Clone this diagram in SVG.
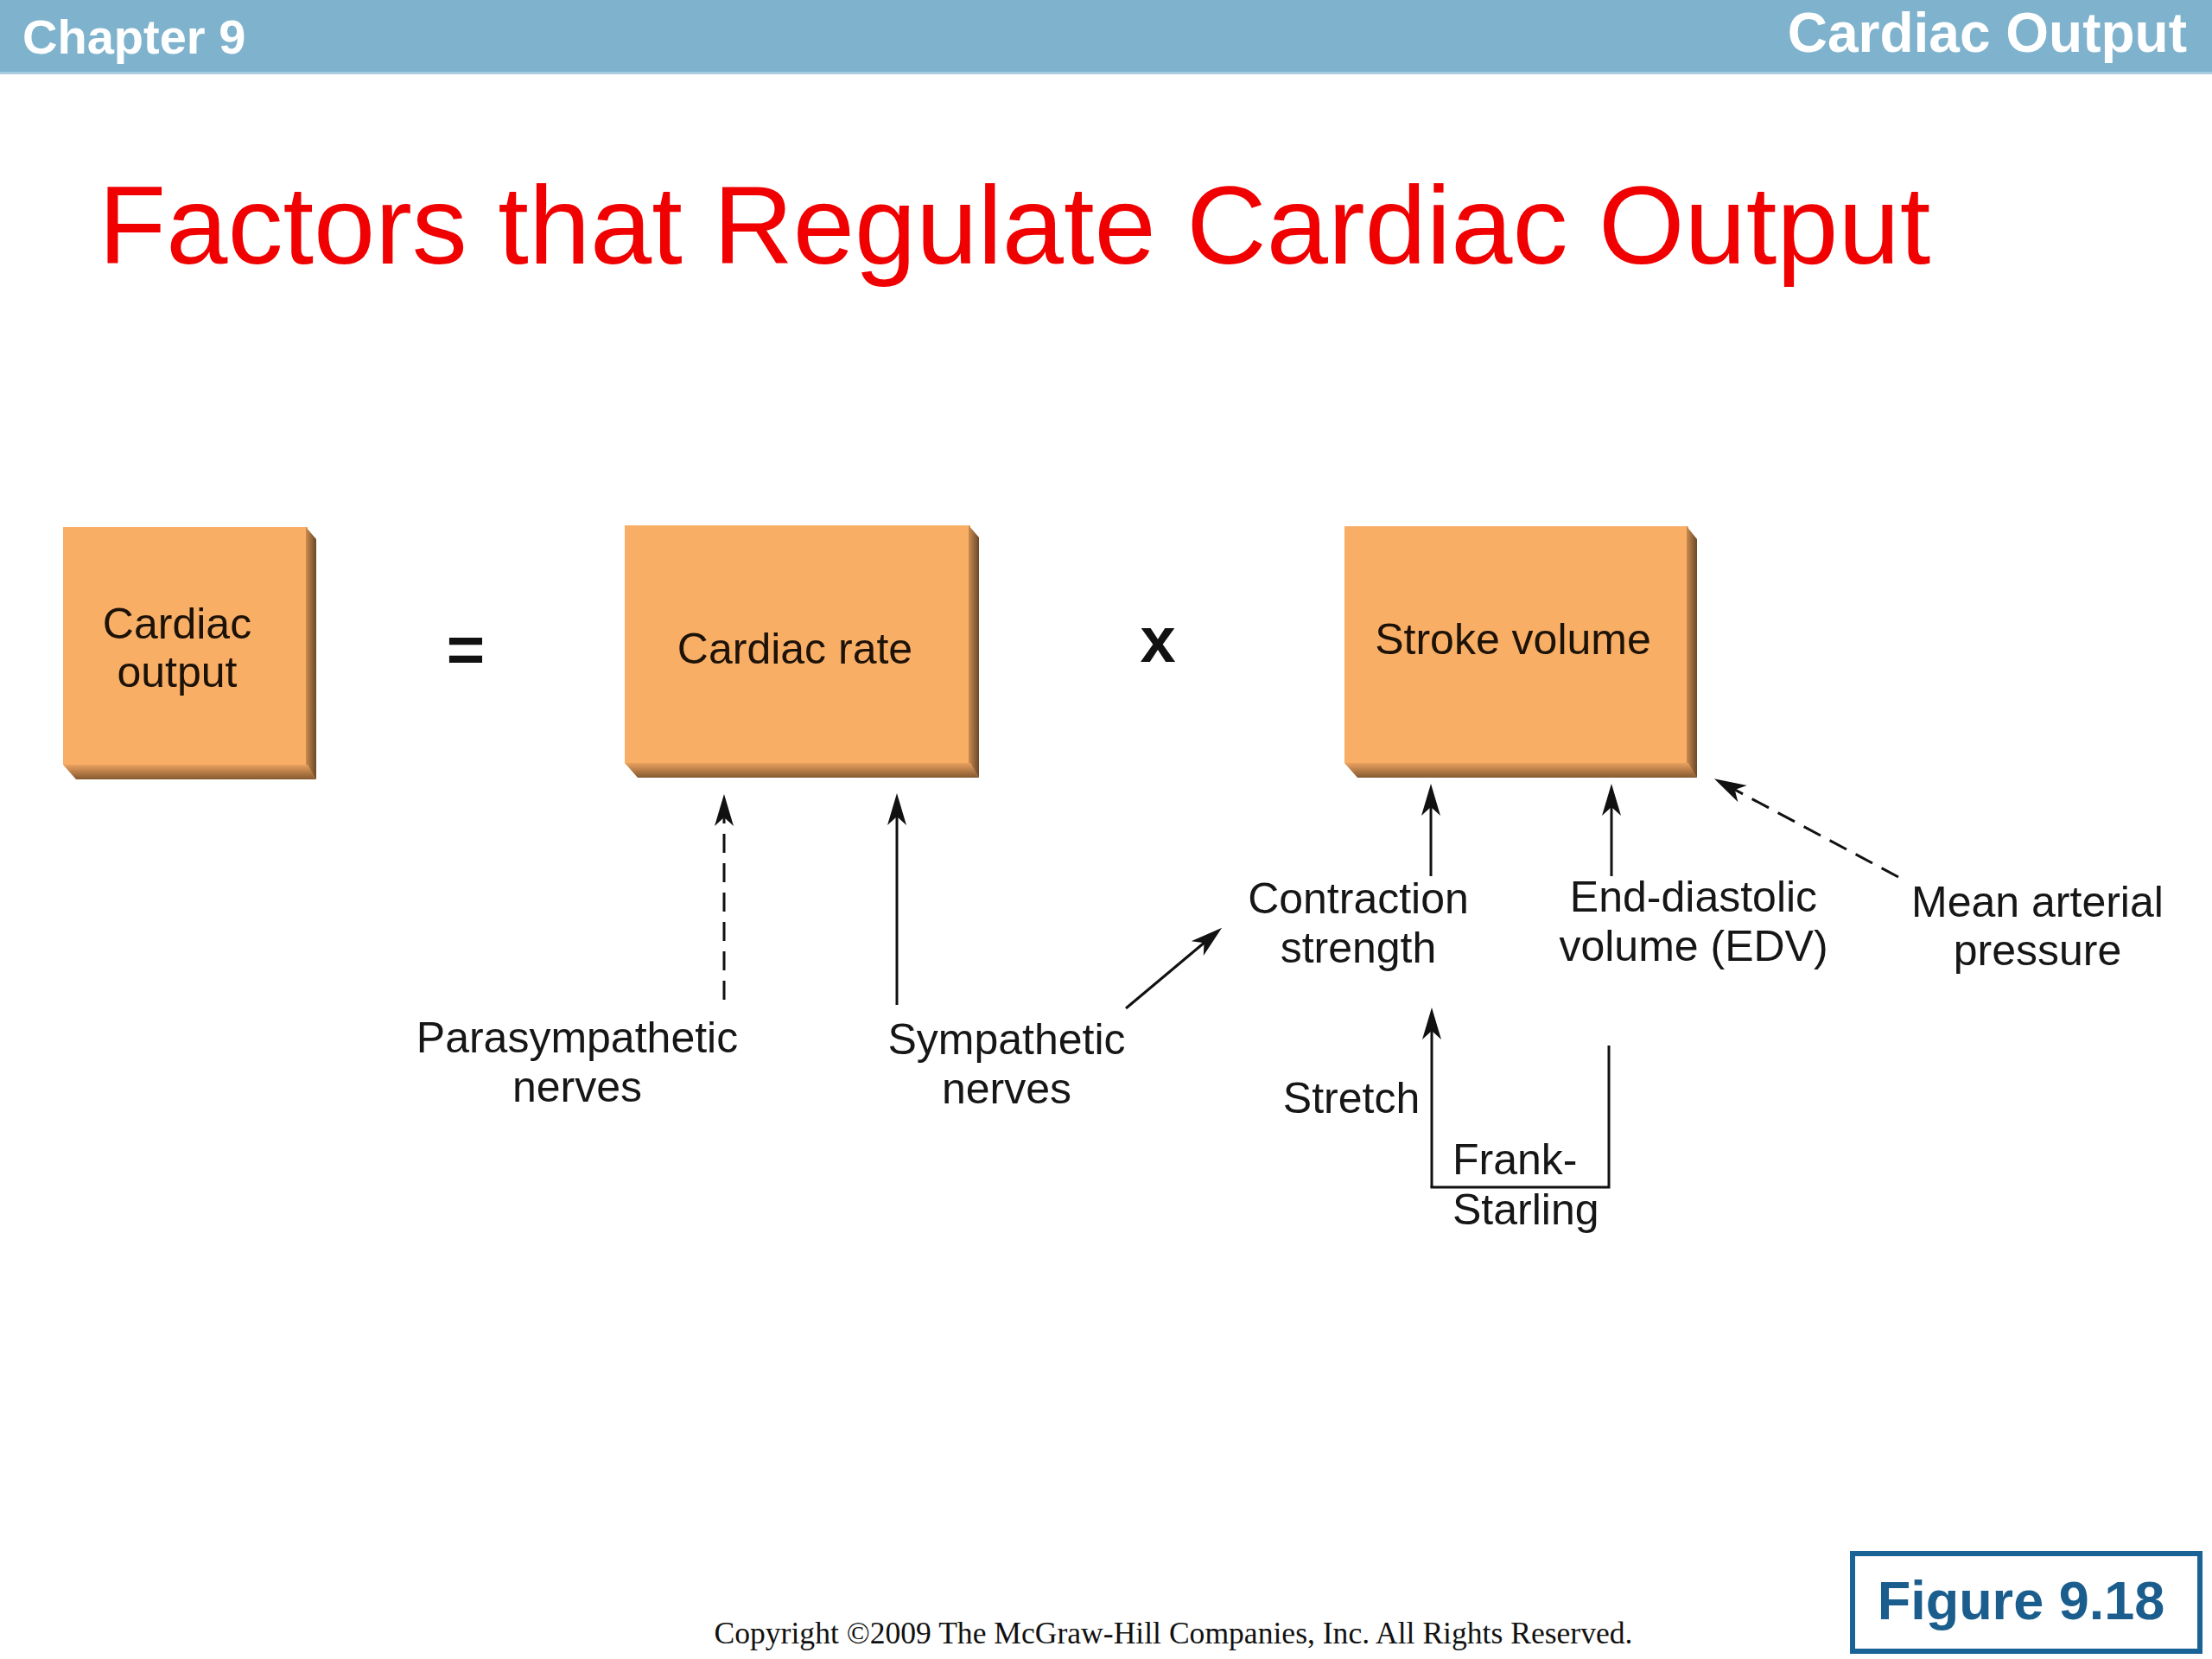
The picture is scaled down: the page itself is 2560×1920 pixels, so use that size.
<svg xmlns="http://www.w3.org/2000/svg" width="2560" height="1920" viewBox="0 0 2560 1920">
  <defs>
    <style>
      .lbl { font-family: "Liberation Sans", Arial, sans-serif; font-size: 50px; fill: #161616; }
      .boxt { font-family: "Liberation Sans", Arial, sans-serif; font-size: 50px; fill: #1c1208; }
      .hdr { font-family: "Liberation Sans", Arial, sans-serif; font-weight: bold; fill: #ffffff; }
      .face { fill: #F9AE66; }
      .side { fill: url(#gSide); }
      .bot { fill: url(#gBot); }
      .ln { stroke: #111; stroke-width: 3; fill: none; }
      .dash { stroke-dasharray: 22 12; }
    </style>
    <linearGradient id="gSide" x1="0" y1="0" x2="1" y2="0">
      <stop offset="0" stop-color="#C98B50"/>
      <stop offset="1" stop-color="#6B4828"/>
    </linearGradient>
    <linearGradient id="gBot" x1="0" y1="0" x2="0" y2="1">
      <stop offset="0" stop-color="#EAA160"/>
      <stop offset="1" stop-color="#85592F"/>
    </linearGradient>
    <marker id="ah" viewBox="-42 -13 44 26" refX="-8" refY="0" markerWidth="44" markerHeight="26" markerUnits="userSpaceOnUse" orient="auto">
      <path d="M0,0 L-37,-11 L-27,0 L-37,11 Z" fill="#111" stroke="none"/>
    </marker>
  </defs>

  <rect x="0" y="0" width="2560" height="1920" fill="#ffffff"/>

  <g id="header">
    <rect x="0" y="0" width="2560" height="85" fill="#7FB3CD"/>
    <rect x="0" y="83" width="2560" height="3" fill="#A8CCDD"/>
    <text class="hdr" x="26" y="62" font-size="56">Chapter 9</text>
    <text class="hdr" x="2531" y="60" font-size="64" text-anchor="end">Cardiac Output</text>
  </g>

  <g id="title">
    <text x="114" y="305" font-family="'Liberation Sans', Arial, sans-serif" font-size="128" fill="#F00000">Factors that Regulate Cardiac Output</text>
  </g>

  <g id="node-cardiac-output">
    <polygon class="face" points="73,610 356,610 356,885 73,885"/>
    <polygon class="side" points="354,610 366,624 366,902 354,885"/>
    <polygon class="bot" points="73,885 356,885 366,902 88,902"/>
    <text class="boxt" x="205" y="739" text-anchor="middle">Cardiac</text>
    <text class="boxt" x="205" y="795" text-anchor="middle">output</text>
  </g>

  <g id="op-equals">
    <text x="539" y="778" font-family="'Liberation Sans', Arial, sans-serif" font-size="76" font-weight="bold" fill="#111" text-anchor="middle">=</text>
  </g>

  <g id="node-cardiac-rate">
    <polygon class="face" points="723,608 1123,608 1123,883 723,883"/>
    <polygon class="side" points="1121,608 1133,622 1133,900 1121,883"/>
    <polygon class="bot" points="723,883 1123,883 1133,900 738,900"/>
    <text class="boxt" x="920" y="768" text-anchor="middle">Cardiac rate</text>
  </g>

  <g id="op-times">
    <text x="1340" y="766" font-family="'Liberation Sans', Arial, sans-serif" font-size="74" font-weight="bold" fill="#111" text-anchor="middle">x</text>
  </g>

  <g id="node-stroke-volume">
    <polygon class="face" points="1556,609 1954,609 1954,883 1556,883"/>
    <polygon class="side" points="1952,609 1964,624 1964,900 1952,883"/>
    <polygon class="bot" points="1556,883 1954,883 1964,900 1571,900"/>
    <text class="boxt" x="1751" y="757" text-anchor="middle">Stroke volume</text>
  </g>

  <g id="node-parasympathetic">
    <text class="lbl" x="668" y="1218" text-anchor="middle">Parasympathetic</text>
    <text class="lbl" x="668" y="1275" text-anchor="middle">nerves</text>
  </g>

  <g id="node-sympathetic">
    <text class="lbl" x="1165" y="1220" text-anchor="middle">Sympathetic</text>
    <text class="lbl" x="1165" y="1277" text-anchor="middle">nerves</text>
  </g>

  <g id="node-contraction">
    <text class="lbl" x="1572" y="1057" text-anchor="middle">Contraction</text>
    <text class="lbl" x="1572" y="1114" text-anchor="middle">strength</text>
  </g>

  <g id="node-edv">
    <text class="lbl" x="1960" y="1055" text-anchor="middle">End-diastolic</text>
    <text class="lbl" x="1960" y="1112" text-anchor="middle">volume (EDV)</text>
  </g>

  <g id="node-map">
    <text class="lbl" x="2358" y="1061" text-anchor="middle">Mean arterial</text>
    <text class="lbl" x="2358" y="1117" text-anchor="middle">pressure</text>
  </g>

  <g id="node-stretch">
    <text class="lbl" x="1564" y="1288" text-anchor="middle">Stretch</text>
  </g>

  <g id="node-frank-starling">
    <text class="lbl" x="1681" y="1359">Frank-</text>
    <text class="lbl" x="1681" y="1417">Starling</text>
  </g>

  <g id="connectors">
    <line class="ln dash" x1="838" y1="1157" x2="838" y2="927" marker-end="url(#ah)"/>
    <line class="ln" x1="1038" y1="1163" x2="1038" y2="926" marker-end="url(#ah)"/>
    <line class="ln" x1="1303" y1="1167" x2="1408" y2="1079" marker-end="url(#ah)"/>
    <line class="ln" x1="1656" y1="1014" x2="1656" y2="915" marker-end="url(#ah)"/>
    <line class="ln" x1="1865" y1="1014" x2="1865" y2="915" marker-end="url(#ah)"/>
    <line class="ln dash" x1="2197" y1="1015" x2="1991" y2="905" marker-end="url(#ah)"/>
    <line class="ln" x1="1657" y1="1374" x2="1657" y2="1174" marker-end="url(#ah)"/>
    <polyline class="ln" points="1655.5,1374 1862,1374 1862,1210" stroke-width="3.5"/>
  </g>

  <g id="figure-label">
    <rect x="2144" y="1798" width="402" height="113" fill="none" stroke="#1A6396" stroke-width="6"/>
    <text x="2339" y="1874" font-family="'Liberation Sans', Arial, sans-serif" font-size="63" font-weight="bold" fill="#1B5E8E" text-anchor="middle">Figure 9.18</text>
  </g>

  <g id="copyright">
    <text x="1358" y="1902" font-family="'Liberation Serif', 'Times New Roman', serif" font-size="35.6" fill="#111" text-anchor="middle">Copyright ©2009 The McGraw-Hill Companies, Inc. All Rights Reserved.</text>
  </g>
</svg>
